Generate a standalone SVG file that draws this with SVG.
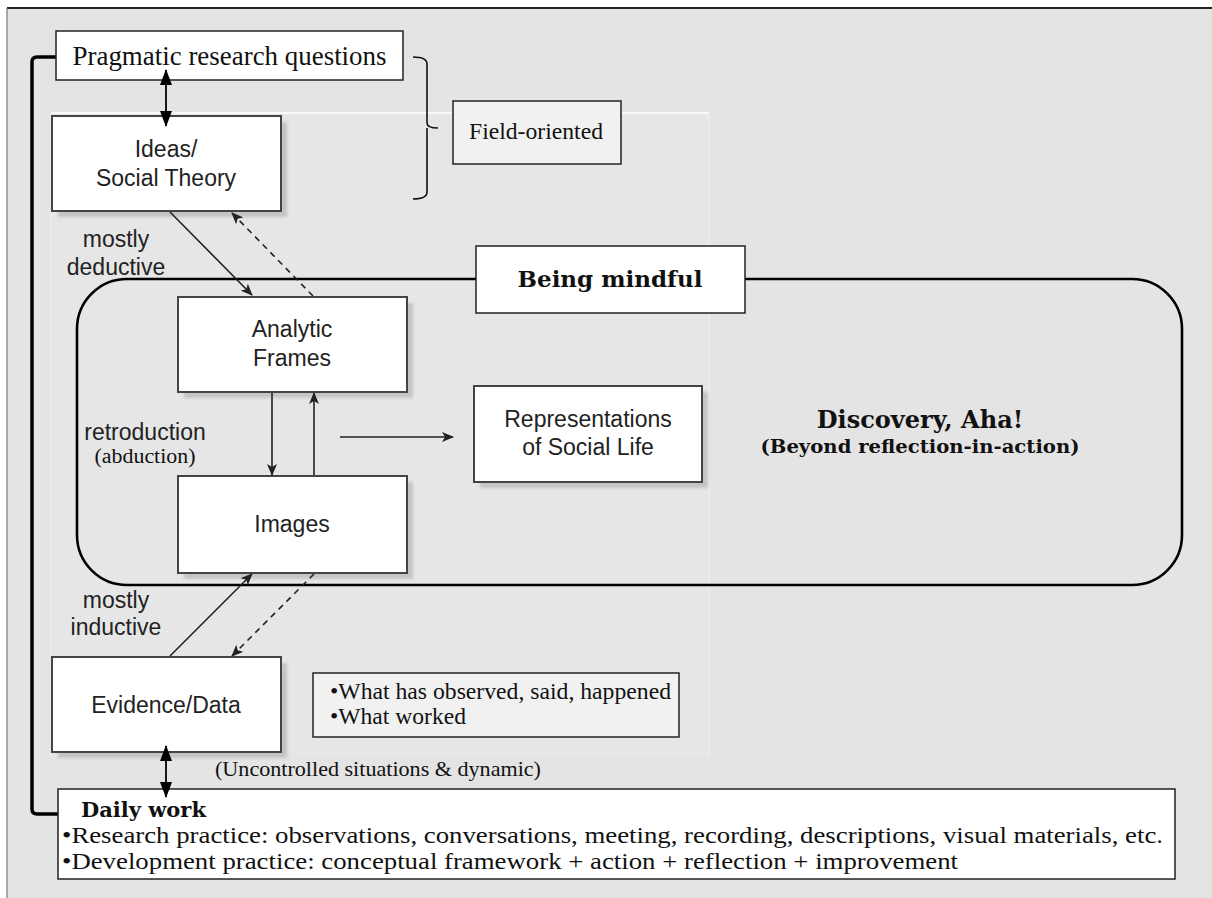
<svg xmlns="http://www.w3.org/2000/svg" width="1212" height="898" viewBox="0 0 1212 898">
  <defs>
    <filter id="soft" x="-10%" y="-10%" width="130%" height="130%">
      <feGaussianBlur stdDeviation="1.6"/>
    </filter>
    <marker id="head" viewBox="0 0 12 10" refX="11" refY="5" markerWidth="12" markerHeight="10" markerUnits="userSpaceOnUse" orient="auto">
      <path d="M0,0 L12,5 L0,10 L3,5 Z" fill="#222"/>
    </marker>
    <marker id="bighead" viewBox="0 0 16 12" refX="15" refY="6" markerWidth="16" markerHeight="12" markerUnits="userSpaceOnUse" orient="auto-start-reverse">
      <path d="M0,0 L16,6 L0,12 Z" fill="#000"/>
    </marker>
  </defs>
  <style>
    .sans { font-family: "Liberation Sans", Arial, sans-serif; fill: #222; }
    .serif { font-family: "Liberation Serif", "Times New Roman", serif; fill: #111; }
    .bold { font-family: "DejaVu Serif", Georgia, serif; font-weight: bold; fill: #111; }
    .fig { fill: #fff; stroke: #444; stroke-width: 2; }
    .shadow { fill: #c4c4c4; filter: url(#soft); }
    .note { fill: #fff; stroke: #222; stroke-width: 1.5; }
    .note-gray { fill: #f1f1f1; stroke: #222; stroke-width: 1.5; }
    .link { fill: none; stroke: #222; stroke-width: 1.6; }
    .dash { stroke-dasharray: 6 5; }
    .dbl { fill: none; stroke: #000; stroke-width: 1.8; }
  </style>

  <!-- page background and frame -->
  <rect x="0" y="0" width="1212" height="898" fill="#fff"/>
  <rect x="7" y="8" width="1212" height="900" fill="#e4e4e4"/>
  <line x1="7" y1="8" x2="1212" y2="8" stroke="#222" stroke-width="2"/>
  <line x1="7" y1="8" x2="7" y2="898" stroke="#777" stroke-width="1.2"/>

  <!-- embedded figure panel -->
  <g id="panel">
    <rect x="51" y="113" width="658" height="644" fill="#e6e6e6"/>
    <line x1="51" y1="113" x2="709" y2="113" stroke="#fafafa" stroke-width="2"/>
    <line x1="709" y1="113" x2="709" y2="757" stroke="#ececec" stroke-width="1.5"/>
    <line x1="51" y1="113" x2="51" y2="757" stroke="#ececec" stroke-width="1.5"/>
  </g>

  <!-- mindful region -->
  <g id="mindful">
    <rect x="77" y="279" width="1105" height="306" rx="50" ry="50" fill="none" stroke="#000" stroke-width="2.6"/>
    <text class="bold" x="920" y="428" font-size="24" text-anchor="middle">Discovery, Aha!</text>
    <text class="bold" x="920" y="453" font-size="18" text-anchor="middle" textLength="319" lengthAdjust="spacingAndGlyphs">(Beyond reflection-in-action)</text>
  </g>

  <!-- left bracket joining questions and daily work -->
  <path id="left-bracket" d="M57,57 H37 Q32,57 32,62 V809 Q32,814 37,814 H59" fill="none" stroke="#000" stroke-width="3.5"/>

  <!-- brace toward field-oriented note -->
  <path id="brace" d="M413,57 Q427,57 427,64 V123 Q427,128 438,128 M427,128 Q427,133 427,138 V192 Q427,199 413,199" fill="none" stroke="#111" stroke-width="1.6"/>

  <g id="n-questions">
    <rect class="note" x="56" y="31" width="347" height="49"/>
    <text class="serif" x="229.5" y="65" font-size="27" text-anchor="middle" textLength="314" lengthAdjust="spacingAndGlyphs">Pragmatic research questions</text>
  </g>

  <g id="n-field">
    <rect class="note-gray" x="453" y="101" width="168" height="63"/>
    <text class="serif" x="536" y="139" font-size="24" text-anchor="middle" textLength="134" lengthAdjust="spacingAndGlyphs">Field-oriented</text>
  </g>

  <g id="n-ideas">
    <rect class="shadow" x="58" y="122" width="229" height="95"/>
    <rect class="fig" x="52" y="116" width="229" height="95"/>
    <text class="sans" x="166" y="157" font-size="23" text-anchor="middle">Ideas/</text>
    <text class="sans" x="166" y="186" font-size="23" text-anchor="middle">Social Theory</text>
  </g>

  <g id="n-analytic">
    <rect class="shadow" x="184" y="303" width="229" height="95"/>
    <rect class="fig" x="178" y="297" width="229" height="95"/>
    <text class="sans" x="292" y="337" font-size="23" text-anchor="middle">Analytic</text>
    <text class="sans" x="292" y="366" font-size="23" text-anchor="middle">Frames</text>
  </g>

  <g id="n-representations">
    <rect class="shadow" x="480" y="392" width="228" height="96"/>
    <rect class="fig" x="474" y="386" width="228" height="96"/>
    <text class="sans" x="588" y="427" font-size="23" text-anchor="middle">Representations</text>
    <text class="sans" x="588" y="455" font-size="23" text-anchor="middle">of Social Life</text>
  </g>

  <g id="n-images">
    <rect class="shadow" x="184" y="482" width="229" height="97"/>
    <rect class="fig" x="178" y="476" width="229" height="97"/>
    <text class="sans" x="292" y="532" font-size="23" text-anchor="middle">Images</text>
  </g>

  <g id="n-evidence">
    <rect class="shadow" x="58" y="663" width="229" height="95"/>
    <rect class="fig" x="52" y="657" width="229" height="95"/>
    <text class="sans" x="166" y="713" font-size="23" text-anchor="middle">Evidence/Data</text>
  </g>

  <g id="n-observed">
    <rect class="note-gray" x="313" y="673" width="366" height="64"/>
    <text class="serif" x="330" y="699" font-size="23" textLength="341" lengthAdjust="spacingAndGlyphs">•What has observed, said, happened</text>
    <text class="serif" x="330" y="724" font-size="23" textLength="136" lengthAdjust="spacingAndGlyphs">•What worked</text>
  </g>

  <g id="n-mindful-label">
    <rect class="note" x="476" y="246" width="269" height="67"/>
    <text class="bold" x="610" y="287" font-size="23" text-anchor="middle">Being mindful</text>
  </g>

  <g id="n-daily">
    <rect class="note" x="58" y="789" width="1117" height="90"/>
    <text class="bold" x="81" y="817" font-size="21">Daily work</text>
    <text class="serif" x="62" y="843" font-size="24" textLength="1101" lengthAdjust="spacingAndGlyphs">•Research practice: observations, conversations, meeting, recording, descriptions, visual materials, etc.</text>
    <text class="serif" x="62" y="869" font-size="24" textLength="896" lengthAdjust="spacingAndGlyphs">•Development practice: conceptual framework + action + reflection + improvement</text>
  </g>

  <!-- connector labels -->
  <g id="labels">
    <text class="sans" x="116" y="247" font-size="23" text-anchor="middle">mostly</text>
    <text class="sans" x="116" y="275" font-size="23" text-anchor="middle">deductive</text>
    <text class="sans" x="145" y="440" font-size="23" text-anchor="middle">retroduction</text>
    <text class="serif" x="145" y="463" font-size="20" text-anchor="middle" textLength="101" lengthAdjust="spacingAndGlyphs">(abduction)</text>
    <text class="sans" x="116" y="608" font-size="23" text-anchor="middle">mostly</text>
    <text class="sans" x="116" y="635" font-size="23" text-anchor="middle">inductive</text>
    <text class="serif" x="215" y="776" font-size="21" textLength="326" lengthAdjust="spacingAndGlyphs">(Uncontrolled situations &amp; dynamic)</text>
  </g>

  <!-- connectors -->
  <g id="connectors">
    <line class="link" x1="170" y1="212" x2="252" y2="295" marker-end="url(#head)"/>
    <line class="link dash" x1="313" y1="296" x2="232" y2="213" marker-end="url(#head)"/>
    <line class="link" x1="272" y1="393" x2="272" y2="475" marker-end="url(#head)"/>
    <line class="link" x1="314" y1="475" x2="314" y2="393" marker-end="url(#head)"/>
    <line class="link" x1="340" y1="437" x2="453" y2="437" marker-end="url(#head)"/>
    <line class="link" x1="170" y1="656" x2="252" y2="574" marker-end="url(#head)"/>
    <line class="link dash" x1="314" y1="574" x2="232" y2="656" marker-end="url(#head)"/>
    <line class="dbl" x1="166" y1="70" x2="166" y2="126" marker-start="url(#bighead)" marker-end="url(#bighead)"/>
    <line class="dbl" x1="166" y1="746" x2="166" y2="797" marker-start="url(#bighead)" marker-end="url(#bighead)"/>
  </g>
</svg>
